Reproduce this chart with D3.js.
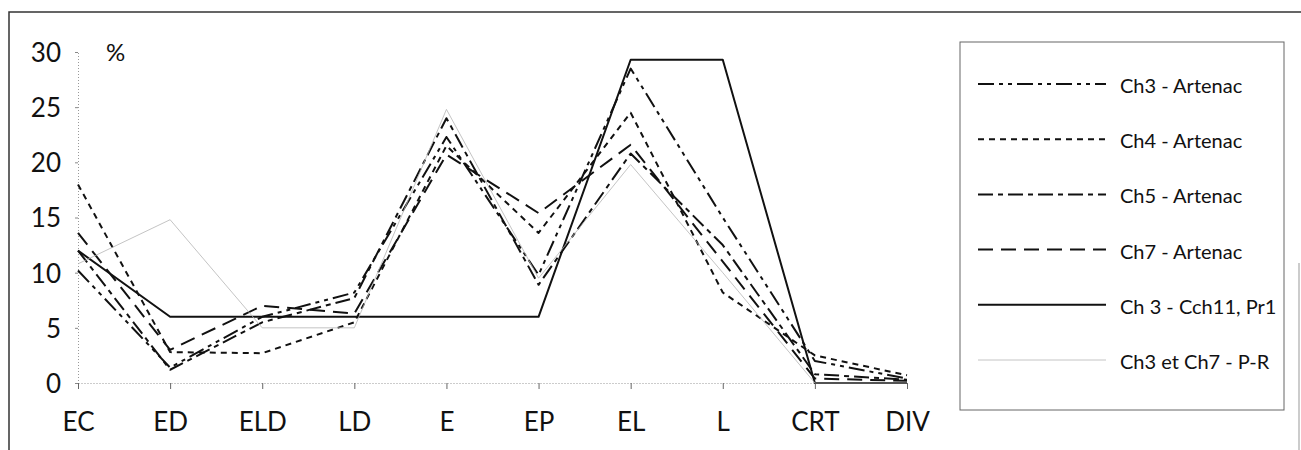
<!DOCTYPE html>
<html><head><meta charset="utf-8">
<script src="https://cdn.jsdelivr.net/npm/d3@7"></script>
<style>
html,body{margin:0;padding:0;background:#fff;}
text{font-family:Lato,"Open Sans",sans-serif;fill:#111;}
</style></head>
<body><svg id="chart" width="1301" height="450"></svg>
<script>
const categories = ["EC","ED","ELD","LD","E","EP","EL","L","CRT","DIV"];
const yTicks = [0,5,10,15,20,25,30];
const seriesNames = ["Ch3 - Artenac","Ch4 - Artenac","Ch5 - Artenac","Ch7 - Artenac","Ch 3 - Cch11, Pr1","Ch3 et Ch7 - P-R"];
const ch3Artenac = [10.2, 1.4, 6.0, 8.2, 22.3, 9.8, 28.5, 15.0, 2.0, 0.4];
const ch4Artenac = [18.0, 2.8, 2.7, 5.5, 21.5, 13.6, 24.5, 8.2, 2.5, 0.7];
const ch5Artenac = [12.0, 1.2, 5.5, 7.7, 24.0, 8.9, 20.8, 12.5, 0.8, 0.3];
const ch7Artenac = [13.6, 3.0, 7.0, 6.3, 20.7, 15.4, 21.6, 11.0, 0.4, 0.2];
const ch3Cch11 = [12.0, 6.0, 6.0, 6.0, 6.0, 6.0, 29.3, 29.3, 0, 0];
const ch3ch7PR = [10.8, 14.8, 5.0, 5.0, 24.8, 9.5, 19.8, 10.0, 0, 0];
const seriesValues = [ch3Artenac, ch4Artenac, ch5Artenac, ch7Artenac, ch3Cch11, ch3ch7PR];

const styles = [
  {dash:"16,5,4,5,4,5", w:2, c:"#111"},
  {dash:"6,5", w:2, c:"#111"},
  {dash:"15,5,5,5", w:2, c:"#111"},
  {dash:"15,8", w:2, c:"#111"},
  {dash:null, w:2, c:"#111"},
  {dash:null, w:0.8, c:"#b5b5b5"}
];

const svg = d3.select("#chart");
// outer frame
svg.append("path").attr("d","M9,450 V12 H1301").attr("fill","none").attr("stroke","#333").attr("stroke-width",1.5);
svg.append("line").attr("x1",1299).attr("x2",1299).attr("y1",263).attr("y2",450).attr("stroke","#999").attr("stroke-width",1);

const x = d3.scalePoint().domain(categories).range([78,907]);
const y = d3.scaleLinear().domain([0,30]).range([383,52]);

// y axis
const ya = svg.append("g").attr("transform","translate(78,0)")
  .call(d3.axisLeft(y).tickValues(yTicks).tickSize(3).tickPadding(14));
ya.select(".domain").attr("stroke","#999").attr("stroke-dasharray","1,2");
ya.selectAll(".tick line").attr("stroke","#888");
ya.selectAll(".tick text").attr("font-size",26).attr("dy","0.36em").style("fill","#111");

// x axis
const xa = svg.append("g").attr("transform","translate(0,383)")
  .call(d3.axisBottom(x).tickSize(6).tickSizeOuter(0).tickPadding(22));
xa.select(".domain").attr("stroke","#999").attr("stroke-dasharray","1,2");
xa.selectAll(".tick line").attr("stroke","#666");
xa.selectAll(".tick text").attr("font-size",26).attr("dy","0.75em").style("fill","#111");

svg.append("text").attr("x",106).attr("y",61).attr("font-size",24).text("%");

const line = d3.line().x((d,i)=>x(categories[i])).y(d=>y(d));
seriesValues.forEach((vals,k)=>{
  const s = styles[k];
  svg.append("path").datum(vals).attr("d",line).attr("fill","none")
    .attr("stroke",s.c).attr("stroke-width",s.w)
    .attr("stroke-dasharray",s.dash).attr("stroke-linejoin","round");
});

// legend
svg.append("rect").attr("x",960).attr("y",42).attr("width",324).attr("height",368)
  .attr("fill","none").attr("stroke","#666").attr("stroke-width",1);
const rowY = d3.scaleLinear().domain([0,5]).range([84,360]);
seriesNames.forEach((n,k)=>{
  const s = styles[k];
  const yy = rowY(k);
  svg.append("line").attr("x1",978).attr("x2",1106).attr("y1",yy).attr("y2",yy)
    .attr("stroke",s.c).attr("stroke-width",s.w).attr("stroke-dasharray",s.dash);
  svg.append("text").attr("x",1120).attr("y",yy+4).attr("dominant-baseline","middle")
    .attr("font-size",20).text(n);
});
</script></body></html>
